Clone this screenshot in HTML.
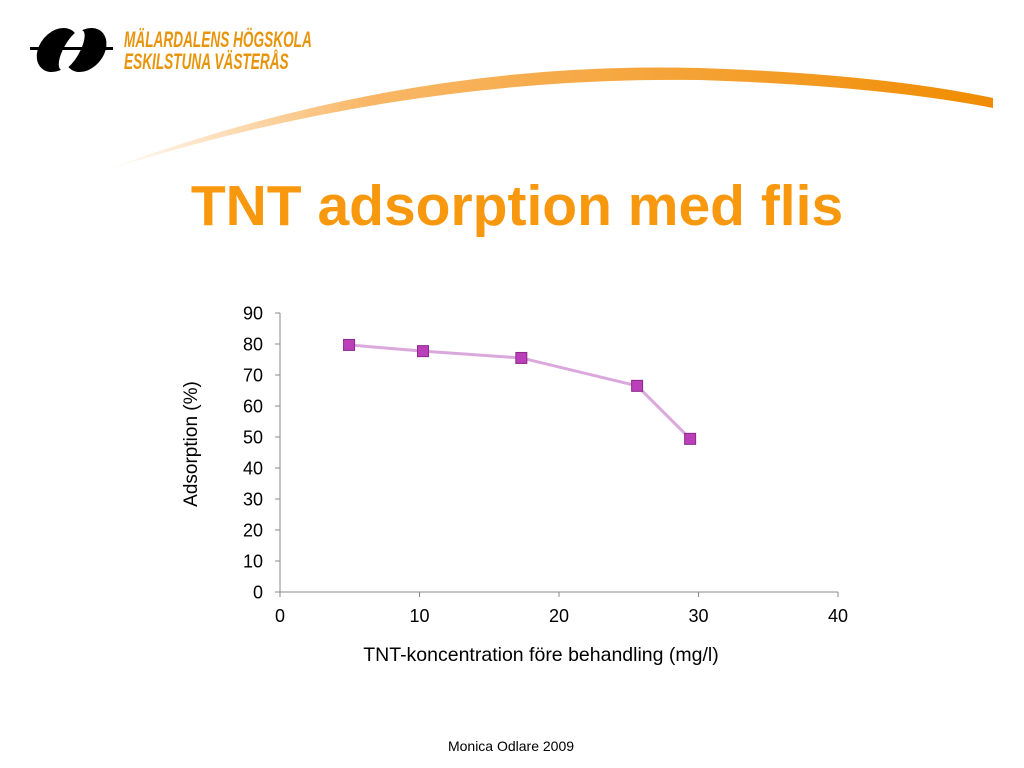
<!DOCTYPE html>
<html><head><meta charset="utf-8"><style>
body{margin:0;width:1024px;height:768px;background:#fff;overflow:hidden;font-family:"Liberation Sans",sans-serif;position:relative}
</style></head><body>
<svg width="1024" height="768" style="position:absolute;left:0;top:0">
<defs><linearGradient id="sw" x1="0" x2="1" y1="0" y2="0">
<stop offset="0" stop-color="#f7a540" stop-opacity="0"/>
<stop offset="0.3" stop-color="#f7a540" stop-opacity="0.8"/>
<stop offset="1" stop-color="#f08c00"/></linearGradient></defs>
<path d="M100,172 Q400,60 700,68 Q880,74 993,98 L993,108 Q880,86 700,80 Q400,76 100,172 Z" fill="url(#sw)"/>
<g>
<ellipse cx="58" cy="50" rx="20" ry="22" fill="#000" transform="skewX(-15) translate(13,0)"/>
<ellipse cx="86" cy="50" rx="20" ry="22" fill="#000" transform="skewX(-15) translate(13,0)"/>
<ellipse cx="72" cy="50" rx="9" ry="20" fill="#fff" transform="skewX(-25) translate(23,0)"/>
<rect x="30" y="47" width="83" height="3" fill="#000"/>
<g transform="translate(124,47) scale(0.62,1)"><text x="0" y="0" font-size="22" font-weight="bold" fill="#e8940a" font-style="italic">MÄLARDALENS HÖGSKOLA</text></g>
<g transform="translate(124,69) scale(0.62,1)"><text x="0" y="0" font-size="22" font-weight="bold" fill="#e8940a" font-style="italic">ESKILSTUNA VÄSTERÅS</text></g>
</g>
<text x="517" y="225" text-anchor="middle" font-size="57" font-weight="bold" fill="#f7980e">TNT adsorption med flis</text>
<g id="chart"></g>
<text transform="translate(197,444) rotate(-90)" text-anchor="middle" font-size="19">Adsorption (%)</text>
<text x="541" y="661" text-anchor="middle" font-size="19.5">TNT-koncentration före behandling (mg/l)</text>
<text x="511" y="751" text-anchor="middle" font-size="14">Monica Odlare 2009</text>
</svg>
<script>
const xVals=[4.95,10.25,17.3,25.6,29.4];
const yVals=[79.7,77.7,75.5,66.5,49.4];
const xTicks=[0,10,20,30,40];
const yTicks=[0,10,20,30,40,50,60,70,80,90];
const NS="http://www.w3.org/2000/svg";
const g=document.getElementById('chart');
const X=v=>280+v*(558/40), Y=v=>592-v*(279/90);
function mk(t,a){const e=document.createElementNS(NS,t);for(const k in a)e.setAttribute(k,a[k]);g.appendChild(e);return e;}
let e=mk('line',{x1:280,y1:313,x2:280,y2:592,stroke:'#888'});

e=mk('line',{x1:280,y1:592,x2:838,y2:592,stroke:'#888'});

yTicks.forEach(t=>{mk('line',{x1:275,x2:280,y1:Y(t),y2:Y(t),stroke:'#888'});
const s=mk('text',{x:263,y:Y(t)+6.5,'text-anchor':'end','font-size':18});s.textContent=t;
});
xTicks.forEach(t=>{mk('line',{x1:X(t),x2:X(t),y1:592,y2:597,stroke:'#888'});
const s=mk('text',{x:X(t),y:622,'text-anchor':'middle','font-size':18});s.textContent=t;
});
e=mk('polyline',{points:xVals.map((v,i)=>X(v)+','+Y(yVals[i])).join(' '),fill:'none',stroke:'#dba8dd','stroke-width':3});

xVals.forEach((v,i)=>{const m=mk('rect',{x:X(v)-5.5,y:Y(yVals[i])-5.5,width:11,height:11,fill:'#bb3fb8',stroke:'#8c2a8a','stroke-width':1});
});
</script>
</body></html>
